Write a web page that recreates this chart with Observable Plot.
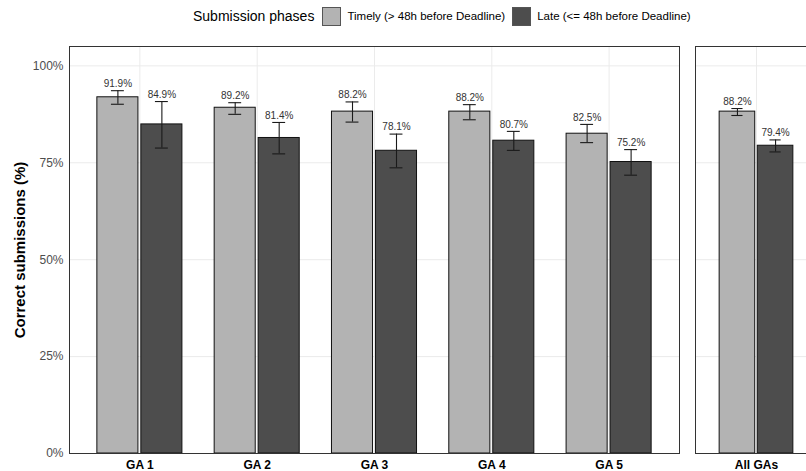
<!DOCTYPE html>
<html>
<head>
<meta charset="utf-8">
<script src="https://cdn.jsdelivr.net/npm/d3@7"></script>
<script src="https://cdn.jsdelivr.net/npm/@observablehq/plot@0.6"></script>
<style>
  html, body { margin: 0; padding: 0; background: #fff; overflow: hidden; }
  #wrap { position: relative; width: 806px; height: 471px; overflow: hidden; font-family: "Liberation Sans", Arial, sans-serif; }
  #legend { height: 32px; display: flex; align-items: center; padding-left: 193px; box-sizing: border-box; white-space: nowrap; }
  #legend .ltitle { font-size: 14px; color: #000; margin-right: 8px; }
  #legend .sw { width: 17px; height: 17px; border: 1.5px solid #555; display: inline-block; margin-right: 6px; }
  #legend .lab { font-size: 11.5px; color: #000; margin-right: 7px; }
  #row { display: flex; flex-wrap: nowrap; width: 900px; align-items: flex-start; }
  #row svg { flex-shrink: 0; max-width: none !important; }
  g[aria-label="y-axis label"] text { font-weight: bold; font-size: 15px; fill: #000; }
  g[aria-label="x-axis tick label"] text { font-weight: bold; }
</style>
</head>
<body>
<div id="wrap">
  <div id="legend"></div>
  <div id="row"></div>
</div>
<script>
// ---- data ----
const categories = ["GA 1", "GA 2", "GA 3", "GA 4", "GA 5"];
const overallCategories = ["All GAs"];
const phases = ["Timely (> 48h before Deadline)", "Late (<= 48h before Deadline)"];
const phaseColors = ["#b3b3b3", "#4d4d4d"];
// values in order GA 1..GA 5, All GAs
const timelyPct  = [91.9, 89.2, 88.2, 88.2, 82.5, 88.2];
const timelyLow  = [90.1, 87.5, 85.5, 86.1, 80.2, 87.2];
const timelyHigh = [93.6, 90.5, 90.7, 90.0, 84.9, 89.0];
const latePct    = [84.9, 81.4, 78.1, 80.7, 75.2, 79.4];
const lateLow    = [78.8, 77.3, 73.7, 78.2, 71.8, 77.8];
const lateHigh   = [90.8, 85.4, 82.4, 83.1, 78.4, 80.9];
const yTicks = [0, 25, 50, 75, 100];
const yTitle = "Correct submissions (%)";
const legendTitle = "Submission phases";

// ---- tidy rows ----
const allCats = [...categories, ...overallCategories];
const rows = [];
allCats.forEach((c, i) => {
  rows.push({cat: c, phase: phases[0], pct: timelyPct[i], lo: timelyLow[i], hi: timelyHigh[i]});
  rows.push({cat: c, phase: phases[1], pct: latePct[i], lo: lateLow[i], hi: lateHigh[i]});
});

// ---- legend ----
const legend = document.getElementById("legend");
const lt = document.createElement("span");
lt.className = "ltitle"; lt.textContent = legendTitle; legend.appendChild(lt);
phases.forEach((p, k) => {
  const sw = document.createElement("span");
  sw.className = "sw"; sw.style.background = phaseColors[k];
  legend.appendChild(sw);
  const lb = document.createElement("span");
  lb.className = "lab"; lb.textContent = p;
  legend.appendChild(lb);
});

// ---- panels ----
const H = 439, MT = 14, MB = 18;
function panel(cats, {width, marginLeft, showY}) {
  const marginRight = 1;
  const data = rows.filter(d => cats.includes(d.cat));
  const u = (width - marginLeft - marginRight) / (cats.length + 0.2);
  const off = 0.1875 * u, half = 0.175 * u, cap = 0.055 * u;
  const marks = [
    Plot.gridY(yTicks, {stroke: "#ebebeb", strokeOpacity: 1, strokeWidth: 1}),
    Plot.gridX({stroke: "#ebebeb", strokeOpacity: 1, strokeWidth: 1})
  ];
  phases.forEach((p, k) => {
    const center = (k === 0 ? -1 : 1) * off;
    const d = data.filter(r => r.phase === p);
    const errStyle = {stroke: "#1a1a1a", strokeWidth: 1.1};
    marks.push(
      Plot.barY(d, {x: "cat", y: "pct", fill: "phase", stroke: "#111", strokeWidth: 1,
        insetLeft: 0.5 * u + center - half, insetRight: 0.5 * u - center - half}),
      Plot.ruleX(d, {x: "cat", y1: "lo", y2: "hi", dx: center, ...errStyle}),
      Plot.tickY(d, {x: "cat", y: "lo", insetLeft: 0.5 * u + center - cap, insetRight: 0.5 * u - center - cap, ...errStyle}),
      Plot.tickY(d, {x: "cat", y: "hi", insetLeft: 0.5 * u + center - cap, insetRight: 0.5 * u - center - cap, ...errStyle}),
      Plot.text(d, {x: "cat", y: "hi", dx: center, dy: -7, text: r => r.pct.toFixed(1) + "%",
        fontSize: 10, fill: "#333"})
    );
  });
  if (showY) {
    marks.push(Plot.axisY(yTicks, {tickFormat: v => v + "%", tickSize: 0, tickPadding: 6, fontSize: 12,
      fill: "#4d4d4d", label: yTitle, labelAnchor: "center", labelOffset: 55, labelArrow: "none"}));
  }
  marks.push(Plot.axisX({tickSize: 0, tickPadding: 7, fontSize: 12, fontWeight: "bold", fill: "#000", label: null}));
  marks.push(Plot.frame({stroke: "#333", strokeWidth: 1}));
  return Plot.plot({
    width, height: H,
    marginLeft, marginRight, marginTop: MT, marginBottom: MB,
    style: {fontFamily: "Liberation Sans, Arial, sans-serif", fontSize: "12px", background: "white", overflow: "visible"},
    x: {domain: cats, paddingInner: 0, paddingOuter: 0.1, round: false, label: null},
    y: showY ? {domain: [0, 105], label: null} : {domain: [0, 105], label: null, axis: null},
    color: {domain: phases, range: phaseColors},
    marks
  });
}

const row = document.getElementById("row");
row.appendChild(panel(categories, {width: 680, marginLeft: 69, showY: true}));
row.appendChild(panel(overallCategories, {width: 138, marginLeft: 15, showY: false}));
</script>
</body>
</html>
